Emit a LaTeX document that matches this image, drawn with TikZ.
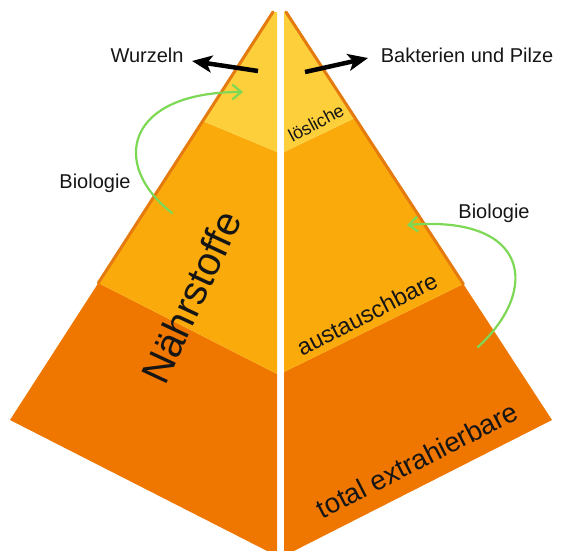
\documentclass[tikz,border=0pt]{standalone}
\usepackage{fontspec}
\setmainfont{Liberation Sans}
\usetikzlibrary{arrows.meta,calc}
\definecolor{topband}{HTML}{FDD03B}
\definecolor{midband}{HTML}{FBAA0C}
\definecolor{lowband}{HTML}{EF7700}
\definecolor{edgeline}{HTML}{E57A0E}
\definecolor{bioarrow}{HTML}{7DD855}
\definecolor{txt}{HTML}{151515}
\tikzset{
  lbl/.style={inner sep=0pt, text=txt, font=\fontsize{20}{24}\selectfont},
  facetext/.style={inner sep=0pt, text=txt},
  flowarrow/.style={line width=4.5pt, black, -{Stealth[length=20pt,width=17pt,inset=5pt]}},
  bioarr/.style={line width=2.2pt, bioarrow, line cap=round, -{Straight Barb[length=9pt,width=15pt,line width=2.2pt]}},
  outeredge/.style={line width=3pt, edgeline, line cap=round}
}
\begin{document}
\begin{tikzpicture}[x=1pt,y=-1pt]
\useasboundingbox (0,0) rectangle (562,551);
% ---------- left face ----------
\coordinate (LA) at (273,12);
\coordinate (LB) at (10,420);
\coordinate (L1) at ($(LA)!{(121-12)/(420-12)}!(LB)$);
\coordinate (L2) at ($(LA)!{(283-12)/(420-12)}!(LB)$);
\fill[lowband] (L2) -- (LB) -- (277,556) -- (277,374) -- cycle;
\fill[midband] (L1) -- (L2) -- (277,374) -- (277,152) -- cycle;
\fill[topband] (LA) -- (277,12) -- (277,152) -- (L1) -- cycle;
\draw[outeredge] (LA) -- (L2);
% ---------- right face ----------
\coordinate (RA) at (286,12);
\coordinate (RB) at (552,420);
\coordinate (R1) at ($(RA)!{(118-12)/(420-12)}!(RB)$);
\coordinate (R2) at ($(RA)!{(284-12)/(420-12)}!(RB)$);
\fill[lowband] (R2) -- (RB) -- (284,556) -- (284,372) -- cycle;
\fill[midband] (R1) -- (R2) -- (284,372) -- (284,152) -- cycle;
\fill[topband] (RA) -- (284,12) -- (284,152) -- (R1) -- cycle;
\draw[outeredge] (RA) -- (R2);
% ---------- labels ----------
\node[lbl] (wurzeln) at (147,55) {Wurzeln};
\node[lbl] (bakterien) at (467,55) {Bakterien und Pilze};
\node[lbl] (bioL) at (95,183) {Biologie};
\node[lbl] (bioR) at (494,213) {Biologie};
\node[facetext, rotate=28, font=\fontsize{18}{21}\selectfont] (loes) at (316,123) {lösliche};
\node[facetext, rotate=27, font=\fontsize{23.5}{27}\selectfont] (aust) at (367,314) {austauschbare};
\node[facetext, rotate=27, font=\fontsize{27.5}{32}\selectfont] (total) at (417,460) {total extrahierbare};
\node[facetext, rotate=65, font=\fontsize{40}{46}\selectfont] (naehr) at (191,297) {Nährstoffe};
% ---------- arrows ----------
\coordinate (wStart) at (258,71);
\coordinate (wEnd) at (192,61);
\coordinate (bStart) at (305,72);
\coordinate (bEnd) at (368,58);
\draw[flowarrow] (wStart) -- (wEnd);
\draw[flowarrow] (bStart) -- (bEnd);
\coordinate (gLs) at (172,213);
\coordinate (gLe) at (243,92);
\coordinate (gRs) at (478,347);
\coordinate (gRe) at (407,225);
\draw[bioarr] (gLs) .. controls (110,165) and (125,92) .. (gLe);
\draw[bioarr] (gRs) .. controls (540,290) and (530,215) .. (gRe);
\end{tikzpicture}
\end{document}
